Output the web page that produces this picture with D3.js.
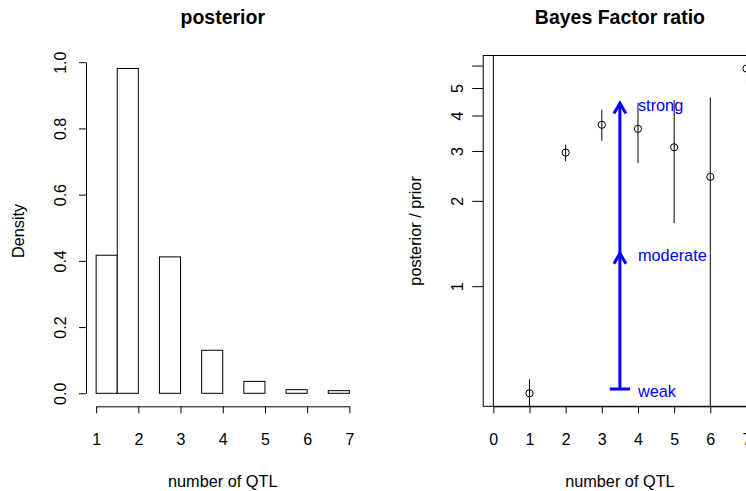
<!DOCTYPE html>
<html>
<head>
<meta charset="utf-8">
<script src="https://cdn.jsdelivr.net/npm/d3@7"></script>
<style>
  html, body { margin: 0; padding: 0; background: #fff; }
  svg { display: block; font-family: "Liberation Sans", Arial, sans-serif; }
  .axis path, .axis line { stroke: #000; stroke-width: 1; }
  .axis text { fill: #000; font-size: 16px; }
</style>
</head>
<body>
<svg id="chart" width="746" height="491"></svg>
<script>
// Posterior histogram of the number of QTL
const histBreaks = [1, 1.5, 2, 2.5, 3, 3.5, 4, 4.5, 5, 5.5, 6, 6.5, 7];
const histDensity = [0.417, 0.981, 0, 0.412, 0, 0.13, 0, 0.036, 0, 0.011, 0, 0.008];
const histXTicks = [1, 2, 3, 4, 5, 6, 7];
const histYTicks = [0, 0.2, 0.4, 0.6, 0.8, 1.0];

// Bayes factor ratio (posterior / prior) by number of QTL, with intervals
const nQTL = [1, 2, 3, 4, 5, 6, 7];
const bfRatio = [0.419, 2.96, 3.71, 3.59, 3.09, 2.43, 5.86];
const bfLower = [0.30, 2.76, 3.26, 2.72, 1.67, 0.25, 5.20];
const bfUpper = [0.469, 3.16, 4.19, 4.44, 4.53, 4.63, 6.50];
const bfXTicks = [0, 1, 2, 3, 4, 5, 6, 7, 8];
const bfYTicks = [1, 2, 3, 4, 5, 6];
const bfYTickLabels = ["1", "2", "3", "4", "5", ""];
const refQTL = 0;

// Evidence scale drawn as arrows
const levelNames = ["weak", "moderate", "strong"];
const levelValues = [0.434, 1.307, 4.42];
const arrowQTL = 3.5;
const levelLabelQTL = 4;

const svg = d3.select("#chart");
const blue = "#0000ff";

// R-style 4% axis expansion
function expand(lo, hi) { const d = (hi - lo) * 0.04; return [lo - d, hi + d]; }

const plotTop = 55.5, plotBottom = 406.3;

// ---------- left panel: histogram ----------
{
  const left = 86, right = 359.5;
  const x = d3.scaleLinear().domain(expand(1, 7)).range([left, right]);
  const y = d3.scaleLinear().domain(expand(0, d3.max(histDensity))).range([plotBottom, plotTop]);
  const g = svg.append("g");

  const bins = histDensity.map((d, i) => ({ x0: histBreaks[i], x1: histBreaks[i + 1], d }));
  g.selectAll("rect.bar").data(bins).join("rect")
    .attr("class", "bar")
    .attr("x", b => x(b.x0))
    .attr("width", b => x(b.x1) - x(b.x0))
    .attr("y", b => y(b.d))
    .attr("height", b => y(0) - y(b.d))
    .attr("fill", "#fff").attr("stroke", "#000").attr("stroke-width", 1);

  const xa = d3.scaleLinear().domain([1, 7]).range([x(1), x(7)]);
  g.append("g").attr("class", "axis").attr("transform", `translate(0,${plotBottom})`)
    .call(d3.axisBottom(xa).tickValues(histXTicks).tickFormat(d3.format("d"))
      .tickSizeInner(7).tickSizeOuter(0).tickPadding(20.3));

  const ya = d3.scaleLinear().domain([0, 1]).range([y(0), y(1)]);
  const yAxis = g.append("g").attr("class", "axis").attr("transform", `translate(${left},0)`)
    .call(d3.axisLeft(ya).tickValues(histYTicks).tickFormat(d3.format(".1f"))
      .tickSizeInner(7).tickSizeOuter(0));
  yAxis.selectAll(".tick text")
    .attr("x", null).attr("dy", null)
    .attr("text-anchor", "middle")
    .attr("transform", "translate(-20,0) rotate(-90)");

  g.append("text").attr("x", (left + right) / 2).attr("y", 24)
    .attr("text-anchor", "middle").attr("font-weight", "bold").attr("font-size", 19.5)
    .text("posterior");
  g.append("text").attr("x", (left + right) / 2).attr("y", 487)
    .attr("text-anchor", "middle").attr("font-size", 16.3).text("number of QTL");
  g.append("text").attr("transform", `translate(${left - 62.5},${(plotTop + plotBottom) / 2}) rotate(-90)`)
    .attr("text-anchor", "middle").attr("font-size", 16.3).text("Density");
}

// ---------- right panel: Bayes factor ratio ----------
{
  const left = 483.2, right = 756.6;
  const x = d3.scaleLinear().domain(expand(0, 7)).range([left, right]);
  const logExt = expand(Math.log(d3.min(bfRatio)), Math.log(d3.max(bfRatio)));
  const y = d3.scaleLog().domain(logExt.map(Math.exp)).range([plotBottom, plotTop]);
  const g = svg.append("g");

  svg.append("clipPath").attr("id", "plotClip").append("rect")
    .attr("x", left).attr("y", plotTop).attr("width", right - left).attr("height", plotBottom - plotTop);
  const plot = g.append("g").attr("clip-path", "url(#plotClip)");

  // reference line at zero QTL
  plot.append("line")
    .attr("x1", x(refQTL)).attr("x2", x(refQTL)).attr("y1", plotTop).attr("y2", plotBottom)
    .attr("stroke", "#000").attr("stroke-width", 1);

  // interval bars
  plot.selectAll("line.err").data(nQTL).join("line").attr("class", "err")
    .attr("x1", (d) => x(d)).attr("x2", (d) => x(d))
    .attr("y1", (d, i) => y(bfLower[i])).attr("y2", (d, i) => y(bfUpper[i]))
    .attr("stroke", "#000").attr("stroke-width", 1);

  // point estimates
  plot.selectAll("circle.pt").data(nQTL).join("circle").attr("class", "pt")
    .attr("cx", (d) => x(d)).attr("cy", (d, i) => y(bfRatio[i])).attr("r", 3.6)
    .attr("fill", "none").attr("stroke", "#000").attr("stroke-width", 1);

  // evidence arrows
  const ax = x(arrowQTL);
  const yWeak = y(levelValues[0]), yMod = y(levelValues[1]), yStrong = y(levelValues[2]);
  const arrows = plot.append("g").attr("stroke", blue).attr("stroke-width", 3).attr("fill", "none");
  arrows.append("line").attr("x1", ax).attr("x2", ax).attr("y1", yWeak).attr("y2", yStrong);
  arrows.append("line").attr("x1", x(arrowQTL - 0.28)).attr("x2", x(arrowQTL + 0.28))
    .attr("y1", yWeak).attr("y2", yWeak);
  [yMod, yStrong].forEach(yt => {
    arrows.append("path").attr("d", `M${ax - 6},${yt + 10.4}L${ax},${yt}L${ax + 6},${yt + 10.4}`);
  });
  plot.selectAll("text.level").data(levelNames).join("text").attr("class", "level")
    .attr("x", x(levelLabelQTL)).attr("y", (d, i) => y(levelValues[i]))
    .attr("dy", "0.5em").attr("fill", blue).attr("font-size", 16.3).text(d => d);

  // box
  g.append("rect").attr("x", left).attr("y", plotTop).attr("width", right - left).attr("height", plotBottom - plotTop)
    .attr("fill", "none").attr("stroke", "#000").attr("stroke-width", 1);

  const xa = d3.scaleLinear().domain([0, 8]).range([x(0), x(8)]);
  g.append("g").attr("class", "axis").attr("transform", `translate(0,${plotBottom})`)
    .call(d3.axisBottom(xa).tickValues(bfXTicks).tickFormat(d3.format("d"))
      .tickSizeInner(7).tickSizeOuter(0).tickPadding(20.3));

  const yAxis = g.append("g").attr("class", "axis").attr("transform", `translate(${left},0)`)
    .call(d3.axisLeft(y).tickValues(bfYTicks).tickFormat((d, i) => bfYTickLabels[i])
      .tickSizeInner(11).tickSizeOuter(0));
  yAxis.select(".domain").remove();
  yAxis.selectAll(".tick text")
    .attr("x", null).attr("dy", null)
    .attr("text-anchor", "middle")
    .attr("transform", "translate(-20.7,0) rotate(-90)");

  g.append("text").attr("x", (left + right) / 2).attr("y", 24)
    .attr("text-anchor", "middle").attr("font-weight", "bold").attr("font-size", 19.5)
    .text("Bayes Factor ratio");
  g.append("text").attr("x", (left + right) / 2).attr("y", 487)
    .attr("text-anchor", "middle").attr("font-size", 16.3).text("number of QTL");
  g.append("text").attr("transform", `translate(${left - 62.5},${(plotTop + plotBottom) / 2}) rotate(-90)`)
    .attr("text-anchor", "middle").attr("font-size", 16.3).text("posterior / prior");
}
</script>
</body>
</html>
